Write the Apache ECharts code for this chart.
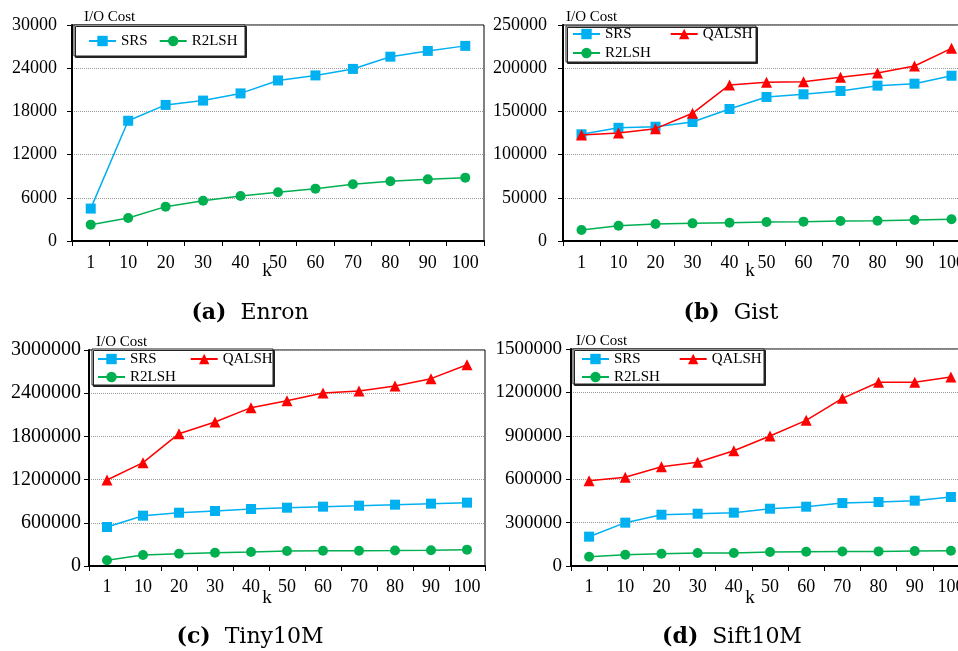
<!DOCTYPE html>
<html>
<head>
<meta charset="utf-8">
<script src="https://cdn.jsdelivr.net/npm/echarts@6/dist/echarts.min.js"></script>
<style>
  body { margin: 0; background: #fff; }
  #chart { width: 958px; height: 651px; }
</style>
</head>
<body>
<div id="chart"></div>
<script>
// k values on the x axis
var kLabels = ['1', '10', '20', '30', '40', '50', '60', '70', '80', '90', '100']

// (a) Enron
var enronSRS = [4500, 16700, 18900, 19500, 20500, 22300, 23000, 23900, 25600, 26400, 27100]
var enronR2LSH = [2270, 3190, 4770, 5600, 6250, 6760, 7270, 7870, 8290, 8560, 8800]

// (b) Gist
var gistSRS = [123500, 131000, 132300, 137700, 152800, 166700, 169800, 173600, 179800, 182100, 191300]
var gistQALSH = [122700, 125000, 130000, 147800, 180600, 183600, 184400, 189400, 194400, 202500, 223000]
var gistR2LSH = [12700, 17700, 19700, 20400, 21200, 22000, 22400, 23100, 23500, 24300, 25100]

// (c) Tiny10M
var tinySRS = [541700, 699000, 740000, 764000, 792000, 810000, 824000, 838000, 852000, 866000, 880000]
var tinyQALSH = [1194000, 1435000, 1838000, 2000000, 2199000, 2296000, 2403000, 2431000, 2500000, 2602000, 2796000]
var tinyR2LSH = [79000, 153000, 171000, 185000, 194000, 208000, 213000, 213000, 215000, 218000, 227000]

// (d) Sift10M
var siftSRS = [202700, 299500, 354700, 361600, 368600, 396000, 410000, 435000, 442000, 451600, 477000]
var siftQALSH = [589700, 613000, 686000, 717000, 797000, 898600, 1007000, 1159000, 1270000, 1270000, 1306000]
var siftR2LSH = [64500, 78000, 85000, 90000, 90000, 97000, 99000, 100000, 101000, 103000, 105000]

// y axis ranges
var yMax = [30000, 250000, 3000000, 1500000]
var yStep = [6000, 50000, 600000, 300000]

var captions = [['(a)', 'Enron'], ['(b)', 'Gist'], ['(c)', 'Tiny10M'], ['(d)', 'Sift10M']]

var serif = 'Liberation Serif'

var panels = [
  { grid: { left: 72, top: 25, width: 412, height: 216 }, yFont: 18, yMargin: 15, xMargin: 13,
    io: [84, 17], k: [267, 271], cap: [250, 313] },
  { grid: { left: 563, top: 25, width: 407, height: 216 }, yFont: 18, yMargin: 16, xMargin: 13,
    io: [566, 17], k: [750, 271], cap: [731, 313] },
  { grid: { left: 89, top: 350, width: 396, height: 216 }, yFont: 20, yMargin: 8, xMargin: 12,
    io: [96, 342], k: [267, 598], cap: [250, 637] },
  { grid: { left: 571, top: 349, width: 398, height: 217 }, yFont: 19, yMargin: 9, xMargin: 12,
    io: [576, 341], k: [750, 598], cap: [732, 637] }
]

var styles = {
  SRS: { color: '#00b0f0', symbol: 'rect', size: 10 },
  QALSH: { color: '#ff0000', symbol: 'triangle', size: 11 },
  R2LSH: { color: '#00b050', symbol: 'circle', size: 10 }
}

function makeSeries (name, data, idx) {
  var s = styles[name]
  return {
    name: name,
    type: 'line',
    xAxisIndex: idx,
    yAxisIndex: idx,
    data: data,
    symbol: s.symbol,
    symbolSize: s.size,
    showAllSymbol: true,
    color: s.color,
    itemStyle: { color: s.color },
    lineStyle: { color: s.color, width: 1.5 },
    emphasis: { disabled: true },
    z: name === 'SRS' ? 3 : (name === 'QALSH' ? 4 : 2)
  }
}

var grids = []
var xAxes = []
var yAxes = []
var graphics = []

panels.forEach(function (p, i) {
  grids.push(Object.assign({
    show: true,
    borderColor: '#000',
    borderWidth: 1,
    backgroundColor: 'transparent',
    containLabel: false,
    outerBoundsMode: 'none'
  }, p.grid))

  xAxes.push({
    type: 'category',
    gridIndex: i,
    data: kLabels,
    boundaryGap: true,
    axisLine: { lineStyle: { color: '#000', width: 2 } },
    axisTick: { show: true, alignWithLabel: false, length: 5, lineStyle: { color: '#000', width: 1 } },
    axisLabel: { color: '#000', fontFamily: serif, fontSize: 18, margin: p.xMargin, interval: 0 },
    splitLine: { show: false }
  })

  yAxes.push({
    type: 'value',
    gridIndex: i,
    min: 0,
    max: yMax[i],
    interval: yStep[i],
    axisLine: { show: true, lineStyle: { color: '#000', width: 2 } },
    axisTick: { show: true, length: 5, lineStyle: { color: '#000', width: 1 } },
    axisLabel: {
      color: '#000', fontFamily: serif, fontSize: p.yFont, margin: p.yMargin,
      formatter: function (v) { return String(v) }
    },
    splitLine: { show: true, lineStyle: { color: '#999', type: 'dotted', width: 1 } }
  })

  graphics.push({
    type: 'text', x: p.io[0], y: p.io[1], z: 10,
    style: { text: 'I/O Cost', fontFamily: serif, fontSize: 15, fill: '#000', align: 'left', verticalAlign: 'middle' }
  })
  graphics.push({
    type: 'text', x: p.k[0], y: p.k[1], z: 10,
    style: { text: 'k', fontFamily: serif, fontSize: 19, fill: '#000', align: 'center', verticalAlign: 'middle' }
  })
  graphics.push({
    type: 'text', x: p.cap[0], y: p.cap[1], z: 10,
    style: {
      text: '{b|' + captions[i][0] + '}  ' + captions[i][1],
      fontFamily: 'DejaVu Serif', fontSize: 22, fill: '#000',
      align: 'center', verticalAlign: 'middle',
      rich: { b: { fontFamily: 'DejaVu Serif', fontSize: 22, fontWeight: 'bold', fill: '#000' } }
    }
  })
})

// legend boxes
var boxes = [[74, 25, 171, 31], [566, 26, 190, 36], [92, 349, 181, 36], [573, 349, 191, 35]]
boxes.forEach(function (b) {
  graphics.push({
    type: 'rect', z: 3,
    shape: { x: b[0], y: b[1], width: b[2], height: b[3] },
    style: { fill: '#fff', stroke: '#222', lineWidth: 1, shadowColor: '#222', shadowOffsetX: 1.5, shadowOffsetY: 1.5, shadowBlur: 0 }
  })
})

function legend (data, left, top, gap) {
  return {
    data: data,
    left: left,
    top: top,
    orient: 'horizontal',
    padding: 0,
    itemGap: gap,
    itemWidth: 27,
    itemHeight: 13,
    selectedMode: false,
    textStyle: { color: '#000', fontFamily: serif, fontSize: 15, lineHeight: 16 }
  }
}

var series = [
  makeSeries('SRS', enronSRS, 0),
  makeSeries('R2LSH', enronR2LSH, 0),
  makeSeries('SRS', gistSRS, 1),
  makeSeries('QALSH', gistQALSH, 1),
  makeSeries('R2LSH', gistR2LSH, 1),
  makeSeries('SRS', tinySRS, 2),
  makeSeries('QALSH', tinyQALSH, 2),
  makeSeries('R2LSH', tinyR2LSH, 2),
  makeSeries('SRS', siftSRS, 3),
  makeSeries('QALSH', siftQALSH, 3),
  makeSeries('R2LSH', siftR2LSH, 3)
]

var chart = echarts.init(document.getElementById('chart'))
chart.setOption({
  animation: false,
  backgroundColor: '#fff',
  grid: grids,
  xAxis: xAxes,
  yAxis: yAxes,
  legend: [
    legend(['SRS', 'R2LSH'], 88, 33, 11),
    legend(['SRS', 'QALSH'], 572, 26, 38),
    legend(['R2LSH'], 572, 45, 10),
    legend(['SRS', 'QALSH'], 97, 351, 33),
    legend(['R2LSH'], 97, 369, 10),
    legend(['SRS', 'QALSH'], 581, 351, 38),
    legend(['R2LSH'], 581, 369, 10)
  ],
  graphic: graphics,
  series: series
})
</script>
</body>
</html>
